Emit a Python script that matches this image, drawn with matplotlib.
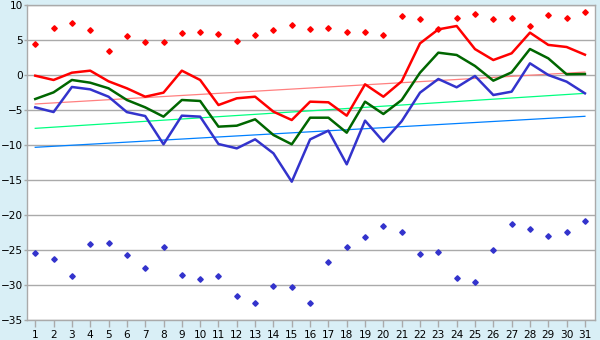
import matplotlib
matplotlib.use("Agg")
import matplotlib.pyplot as plt
import numpy as np

days = list(range(1, 32))

red_line = [-0.1, -0.71, 0.33, 0.62, -0.9, -1.9, -3.1, -2.52, 0.62, -0.71,
            -4.29, -3.33, -3.1, -5.24, -6.43, -3.81, -3.9, -5.81, -1.33, -3.1,
            -0.9, 4.52, 6.52, 7.0, 3.7, 2.14, 3.1, 6.05, 4.3, 4.0, 2.9]
green_line = [-3.43, -2.48, -0.71, -1.1, -1.9, -3.57, -4.62, -5.95, -3.57, -3.71,
              -7.38, -7.24, -6.33, -8.57, -9.9, -6.1, -6.1, -8.24, -3.81, -5.57,
              -3.57, 0.33, 3.19, 2.86, 1.29, -0.81, 0.38, 3.71, 2.38, 0.1, 0.14]
blue_line = [-4.62, -5.29, -1.71, -2.05, -3.1, -5.3, -5.86, -9.9, -5.81, -5.95,
             -9.86, -10.48, -9.19, -11.19, -15.24, -9.2, -7.95, -12.76, -6.52, -9.52,
             -6.6, -2.52, -0.57, -1.76, -0.14, -2.86, -2.38, 1.67, 0.0, -0.95, -2.62]
red_points = [4.5, 6.67, 7.38, 6.38, 3.38, 5.52, 4.67, 4.67, 5.95, 6.1,
              5.81, 4.81, 5.67, 6.38, 7.1, 6.52, 6.67, 6.1, 6.1, 5.67,
              8.38, 7.95, 6.52, 8.1, 8.67, 7.95, 8.1, 6.95, 8.52, 8.1, 8.95]
blue_points = [-25.48, -26.33, -28.76, -24.19, -24.05, -25.76, -27.62, -24.62, -28.62, -29.19,
               -28.76, -31.62, -32.62, -30.19, -30.33, -32.62, -26.76, -24.62, -23.19, -21.62,
               -22.48, -25.62, -25.33, -29.05, -29.62, -25.05, -21.33, -22.05, -23.05, -22.48, -20.9]

normal_days = [1, 31]
normal_max = [-4.14, 0.42]
normal_mean = [-7.62, -2.62]
normal_min = [-10.33, -5.9]

y_ticks = [10, 5, 0, -5, -10, -15, -20, -25, -30, -35]

bg = "#D9EFF6"
grid_c = "#AAAAAA"

fig = plt.figure(figsize=(6, 3.4), dpi=100, facecolor=bg)
ax = fig.add_axes([27/600, 1 - 320/340, (595 - 27)/600, (320 - 5)/340])
ax.set_facecolor("white")

ax.set_xlim(0.55, 31.55)
ax.set_ylim(-35, 10)
ax.set_yticks(y_ticks)
ax.set_xticks(days)
ax.yaxis.grid(True, color=grid_c, linewidth=1.0)
ax.set_axisbelow(True)

for s in ax.spines.values():
    s.set_color(grid_c)
    s.set_linewidth(1.0)

ax.tick_params(axis="both", colors=grid_c, labelcolor="black", labelsize=7.6, width=1)
ax.tick_params(axis="y", length=2, pad=1)
ax.tick_params(axis="x", length=5, pad=2)

ax.plot(normal_days, normal_max, color="#FF8080", lw=0.9, zorder=2)
ax.plot(normal_days, normal_mean, color="#00FF80", lw=0.9, zorder=2)
ax.plot(normal_days, normal_min, color="#0080FF", lw=0.9, zorder=2)

ax.plot(days, red_line, color="#FF0000", lw=1.8, zorder=3)
ax.plot(days, green_line, color="#006600", lw=1.8, zorder=3)
ax.plot(days, blue_line, color="#3333CC", lw=1.8, zorder=3)

ax.plot(days, red_points, linestyle="none", marker="D", markersize=2.8,
        color="#FF0000", zorder=4)
ax.plot(days, blue_points, linestyle="none", marker="D", markersize=2.8,
        color="#3333CC", zorder=4)

fig.savefig("out.png", dpi=100, facecolor=bg)
